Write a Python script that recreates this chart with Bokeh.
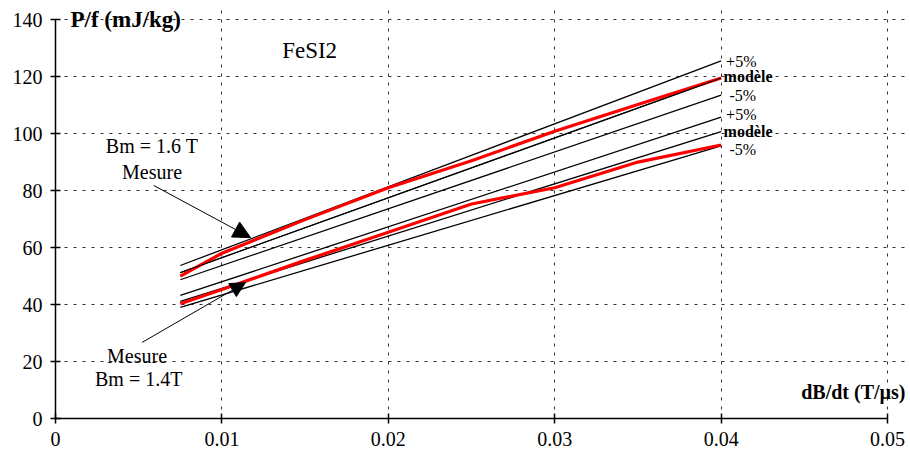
from bokeh.plotting import figure
from bokeh.models import Range1d, FixedTicker, Label, Arrow, NormalHead
from bokeh.embed import file_html
from bokeh.resources import INLINE

# ---- data ----
x_ticks = [0, 0.01, 0.02, 0.03, 0.04, 0.05]
x_tick_labels = ["0", "0.01", "0.02", "0.03", "0.04", "0.05"]
y_ticks = [0, 20, 40, 60, 80, 100, 120, 140]

x_meas = [0.0075, 0.01, 0.015, 0.02, 0.025, 0.03, 0.035, 0.04]
meas_16 = [50.0, 58.0, 69.8, 81.0, 90.5, 100.8, 110.2, 119.5]   # Bm = 1.6 T
meas_14 = [40.3, 45.3, 55.5, 65.4, 75.3, 81.0, 90.0, 96.0]      # Bm = 1.4 T

x_model = [0.0075, 0.04]
model_16 = [51.2, 119.5]
plus_16 = [53.7, 125.5]
minus_16 = [48.7, 113.5]
model_14 = [41.1, 100.7]
plus_14 = [43.2, 105.8]
minus_14 = [39.0, 95.7]

SERIF = "Liberation Serif"

p = figure(width=908, height=455, x_range=Range1d(0, 0.0512), y_range=Range1d(0, 143.9),
           output_backend="svg", toolbar_location=None,
           min_border_left=55, min_border_right=1, min_border_top=8, min_border_bottom=37)
p.outline_line_color = None
p.background_fill_color = "white"
p.border_fill_color = "white"

# axes
for ax in (p.xaxis[0], p.yaxis[0]):
    ax.axis_line_width = 1.5
    ax.axis_line_color = "black"
    ax.major_tick_line_width = 1.5
    ax.major_tick_line_color = "black"
    ax.major_tick_in = 5
    ax.major_tick_out = 5
    ax.minor_tick_line_color = None
    ax.major_label_text_font = SERIF
    ax.major_label_text_font_size = "20px"
    ax.major_label_text_color = "black"
p.xaxis.ticker = FixedTicker(ticks=x_ticks)
p.yaxis.ticker = FixedTicker(ticks=y_ticks)
p.xaxis.bounds = (0, 0.05)
p.yaxis.bounds = (0, 140)
p.xaxis.major_label_overrides = {t: l for t, l in zip(x_ticks, x_tick_labels)}
p.xaxis.major_label_standoff = 8
p.yaxis.major_label_standoff = 8

# grid
for g in (p.xgrid[0], p.ygrid[0]):
    g.grid_line_color = "#333333"
    g.grid_line_dash = "3 6"
    g.grid_line_width = 1
p.xgrid.bounds = (0, 140)
p.ygrid.bounds = (0, 0.05)

# model bands (black)
for ys in (plus_16, model_16, minus_16, plus_14, model_14, minus_14):
    p.line(x_model, ys, line_color="black", line_width=1.3)

# measurements (red)
p.line(x_meas, meas_16, line_color="#ff0000", line_width=3.2, line_join="round")
p.line(x_meas, meas_14, line_color="#ff0000", line_width=3.2, line_join="round")

# model line drawn over the red (as in the reference)
p.line(x_model, model_16, line_color="black", line_width=1.0)

def lab(x, y, text, size, bold=False, align="center", xoff=0):
    p.add_layout(Label(x=x, y=y, text=text, text_font=SERIF, text_font_size=size,
                       text_font_style="bold" if bold else "normal", text_color="black",
                       text_align=align, text_baseline="middle", x_offset=xoff))

lab(0.0009, 140, "P/f (mJ/kg)", "23px", bold=True, align="left")
lab(0.05, 9.3, "dB/dt (T/µs)", "20px", bold=True, align="right", xoff=18)
lab(0.01527, 129.1, "FeSI2", "23px")
lab(0.0058, 95.8, "Bm = 1.6 T", "20px")
lab(0.0058, 86.4, "Mesure", "20px")
lab(0.0049, 22.1, "Mesure", "20px")
lab(0.0050, 13.9, "Bm = 1.4T", "20px")

# end labels
lab(0.0403, 125.3, "+5%", "16px", align="left")
lab(0.04015, 120.0, "modèle", "16px", bold=True, align="left")
lab(0.0405, 113.3, "-5%", "16px", align="left")
lab(0.0403, 106.7, "+5%", "16px", align="left")
lab(0.04015, 100.8, "modèle", "16px", bold=True, align="left")
lab(0.0405, 94.3, "-5%", "16px", align="left")

# arrows
p.add_layout(Arrow(x_start=0.0059, y_start=81.8, x_end=0.01172, y_end=63.5,
                   line_color="black", line_width=1,
                   end=NormalHead(size=17, fill_color="black", line_color="black")))
p.add_layout(Arrow(x_start=0.0052, y_start=26.7, x_end=0.01142, y_end=47.7,
                   line_color="black", line_width=1,
                   end=NormalHead(size=15, fill_color="black", line_color="black")))

open("out.html", "w").write(file_html(p, INLINE))
